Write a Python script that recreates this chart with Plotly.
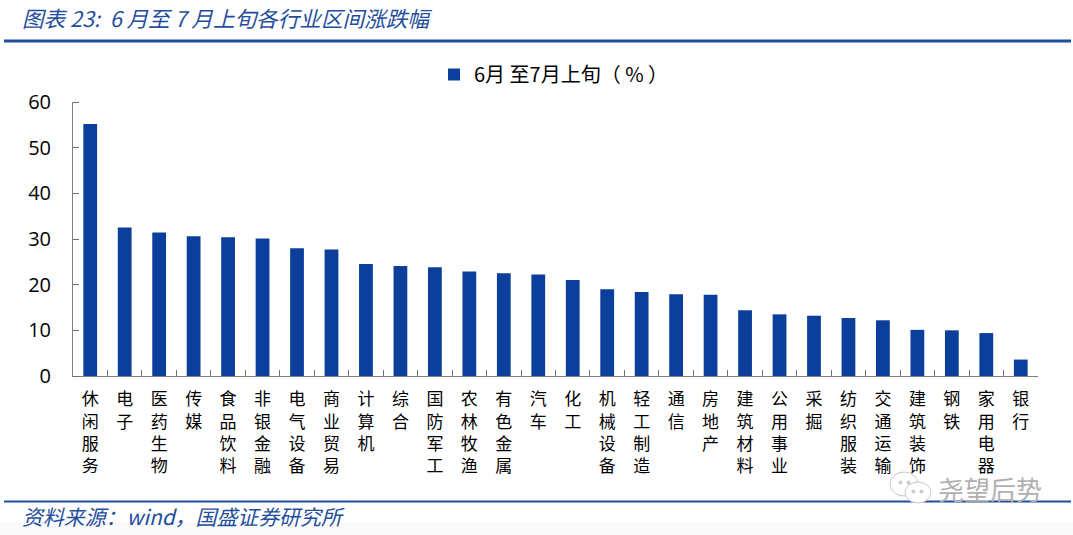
import plotly.graph_objects as go

CJK = "Noto Sans CJK SC"
BLUE = "#0B3F9B"
TITLE_BLUE = "#1F4E9C"

categories = ["休闲服务", "电子", "医药生物", "传媒", "食品饮料", "非银金融", "电气设备", "商业贸易",
              "计算机", "综合", "国防军工", "农林牧渔", "有色金属", "汽车", "化工", "机械设备",
              "轻工制造", "通信", "房地产", "建筑材料", "公用事业", "采掘", "纺织服装", "交通运输",
              "建筑装饰", "钢铁", "家用电器", "银行"]
values = [55.2, 32.5, 31.4, 30.6, 30.4, 30.1, 28.0, 27.7, 24.5, 24.1, 23.8, 22.9, 22.5, 22.2,
          21.0, 19.0, 18.4, 17.9, 17.8, 14.4, 13.5, 13.2, 12.7, 12.2, 10.1, 10.0, 9.4, 3.6]
series_name = "6月 至7月上旬（ % ）"
y_ticks = [0, 10, 20, 30, 40, 50, 60]
title_text = "图表 23:  6 月至 7 月上旬各行业区间涨跌幅"
source_text = "资料来源：wind，国盛证券研究所"
watermark_text = "尧望后势"

labels = ["<br>".join(c) for c in categories]

fig = go.Figure(go.Bar(x=labels, y=values, name=series_name, marker_color=BLUE,
                       marker_line_width=0, showlegend=True))

W, H = 1073, 535
PLOT_L, PLOT_R, PLOT_T, PLOT_B = 73, 1038, 102, 376
def px(x): return (x - PLOT_L) / (PLOT_R - PLOT_L)
def py(y): return (PLOT_B - y) / (PLOT_B - PLOT_T)

def circle(x0, x1, y0, y1, fill="white", line="#C8C8C8"):
    return dict(type="circle", xref="paper", yref="paper", x0=px(x0), x1=px(x1), y0=py(y1), y1=py(y0),
                line=dict(color=line, width=1), fillcolor=fill)

fig.update_layout(
    width=W, height=H,
    margin=dict(l=PLOT_L, r=W - PLOT_R, t=PLOT_T, b=H - PLOT_B, pad=0),
    paper_bgcolor="white", plot_bgcolor="white",
    bargap=0.6,
    font=dict(family=CJK, color="black"),
    legend=dict(orientation="h", x=px(434), y=py(55), xanchor="left", yanchor="top",
                font=dict(size=20, family=CJK, color="black"), bgcolor="rgba(0,0,0,0)"),
    xaxis=dict(type="category", tickmode="array", tickvals=labels, ticktext=labels,
               tickson="boundaries", ticks="inside", ticklen=6, tickwidth=1, tickcolor="#707070",
               showline=True, linecolor="#808080", linewidth=1, showgrid=False, tickangle=0,
               tickfont=dict(size=17, family=CJK, color="black"), ticklabelstandoff=8),
    yaxis=dict(range=[0, 60], tickvals=y_ticks, ticks="outside", ticklen=17, tickwidth=1,
               tickcolor="rgba(0,0,0,0)", showline=True, linecolor="#808080", linewidth=1,
               showgrid=False, zeroline=False,
               tickfont=dict(size=20, family="Open Sans", color="black"),
               minor=dict(ticks="inside", ticklen=6, tickwidth=1, tickcolor="#707070",
                          tickmode="array", tickvals=y_ticks)),
    shapes=[
        dict(type="rect", xref="paper", yref="paper", x0=px(0), x1=px(1073), y0=py(522), y1=py(535),
             line=dict(width=0), fillcolor="#FAFAFA", layer="below"),
        dict(type="line", xref="paper", yref="paper", x0=px(4), x1=px(1071), y0=py(41), y1=py(41),
             line=dict(color="#1D4F9F", width=3)),
        dict(type="line", xref="paper", yref="paper", x0=px(4), x1=px(1071), y0=py(501.5), y1=py(501.5),
             line=dict(color="#1D4F9F", width=2)),
        circle(890, 918, 472, 496),
        circle(905, 931, 482, 503),
        circle(899, 902, 481, 484, "#C8C8C8"),
        circle(907, 910, 481, 484, "#C8C8C8"),
        circle(912, 915, 490, 493, "#C8C8C8"),
        circle(920, 923, 490, 493, "#C8C8C8"),
    ],
    annotations=[
        dict(text=f"<i>{title_text}</i>", xref="paper", yref="paper", x=px(20), y=py(17),
             xanchor="left", yanchor="middle", showarrow=False,
             font=dict(size=21.6, family=CJK, color=TITLE_BLUE)),
        dict(text=f"<i>{source_text}</i>", xref="paper", yref="paper", x=px(20), y=py(516),
             xanchor="left", yanchor="middle", showarrow=False,
             font=dict(size=20.9, family=CJK, color=TITLE_BLUE)),
        dict(text=watermark_text, xref="paper", yref="paper", x=px(936), y=py(488),
             xanchor="left", yanchor="middle", showarrow=False,
             font=dict(size=26, family=CJK, color="#B0B0B0")),
    ],
)
fig.write_html("out.html", post_script="document.body.style.margin='0';",
               config={"displayModeBar": False})
